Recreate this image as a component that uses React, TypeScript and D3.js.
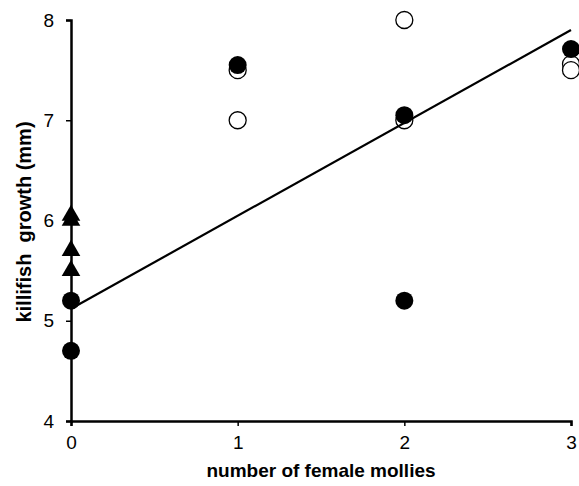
import React, { useRef, useEffect } from 'react';
import * as d3 from 'd3';

// killifish growth vs number of female mollies
const triangles: [number, number][] = [
  [0, 6.05],
  [0, 6.0],
  [0, 5.7],
  [0, 5.5],
];
const openCircles: [number, number][] = [
  [1, 7.5],
  [1, 7.0],
  [2, 8.0],
  [2, 7.0],
  [3, 7.56],
  [3, 7.5],
];
const filledCircles: [number, number][] = [
  [0, 5.2],
  [0, 4.7],
  [1, 7.55],
  [2, 7.05],
  [2, 5.2],
  [3, 7.71],
];
const trendLine: [number, number][] = [
  [0, 5.12],
  [3, 7.9],
];
const xTicks = [0, 1, 2, 3];
const yTicks = [4, 5, 6, 7, 8];

export default function App() {
  const svgRef = useRef<SVGSVGElement>(null);

  useEffect(() => {
    const w = 579;
    const h = 486;
    const svg = d3.select(svgRef.current);
    svg.selectAll('*').remove();
    svg.attr('width', w).attr('height', h);

    const x = d3.scaleLinear().domain([0, 3]).range([71, 571]);
    const y = d3.scaleLinear().domain([4, 8]).range([421, 20]);
    const font = 'Liberation Sans, Arial, sans-serif';

    // axes
    const yAxis = svg
      .append('g')
      .attr('transform', `translate(${x(0)},0)`)
      .call(d3.axisLeft(y).tickValues(yTicks).tickFormat(d3.format('d')).tickSize(5).tickPadding(12));
    const xAxis = svg
      .append('g')
      .attr('transform', `translate(0,${y(4)})`)
      .call(d3.axisBottom(x).tickValues(xTicks).tickFormat(d3.format('d')).tickSize(5).tickPadding(10));
    [yAxis, xAxis].forEach((g) => {
      g.select('.domain').attr('stroke', '#000').attr('stroke-width', 2.5);
      g.selectAll('.tick line').attr('stroke', '#000').attr('stroke-width', 1.5);
      g.selectAll('.tick text')
        .attr('fill', '#000')
        .style('font-family', font)
        .style('font-size', '19px');
    });

    // markers
    svg
      .append('g')
      .selectAll('circle')
      .data(openCircles)
      .join('circle')
      .attr('cx', (d) => x(d[0]))
      .attr('cy', (d) => y(d[1]))
      .attr('r', 8.5)
      .attr('fill', '#fff')
      .attr('stroke', '#000')
      .attr('stroke-width', 1.3);

    svg
      .append('g')
      .selectAll('circle')
      .data(filledCircles)
      .join('circle')
      .attr('cx', (d) => x(d[0]))
      .attr('cy', (d) => y(d[1]))
      .attr('r', 9)
      .attr('fill', '#000');

    const tri = d3.symbol().type(d3.symbolTriangle).size(150);
    svg
      .append('g')
      .selectAll('path')
      .data(triangles)
      .join('path')
      .attr('transform', (d) => `translate(${x(d[0])},${y(d[1])})`)
      .attr('d', tri())
      .attr('fill', '#000');

    // trend line
    svg
      .append('path')
      .datum(trendLine)
      .attr('d', d3.line<[number, number]>().x((d) => x(d[0])).y((d) => y(d[1])))
      .attr('fill', 'none')
      .attr('stroke', '#000')
      .attr('stroke-width', 2.2);

    // axis titles
    svg
      .append('text')
      .attr('x', 321)
      .attr('y', 477)
      .attr('text-anchor', 'middle')
      .style('font-family', font)
      .style('font-size', '19px')
      .style('font-weight', 'bold')
      .style('white-space', 'pre')
      .text('number of female mollies');

    svg
      .append('text')
      .attr('transform', 'translate(31,222) rotate(-90)')
      .attr('text-anchor', 'middle')
      .style('font-family', font)
      .style('font-size', '20px')
      .style('font-weight', 'bold')
      .style('white-space', 'pre')
      .text('killifish  growth (mm)');
  }, []);

  return (
    <svg ref={svgRef} style={{ position: 'absolute', left: 0, top: 0 }}></svg>
  );
}
